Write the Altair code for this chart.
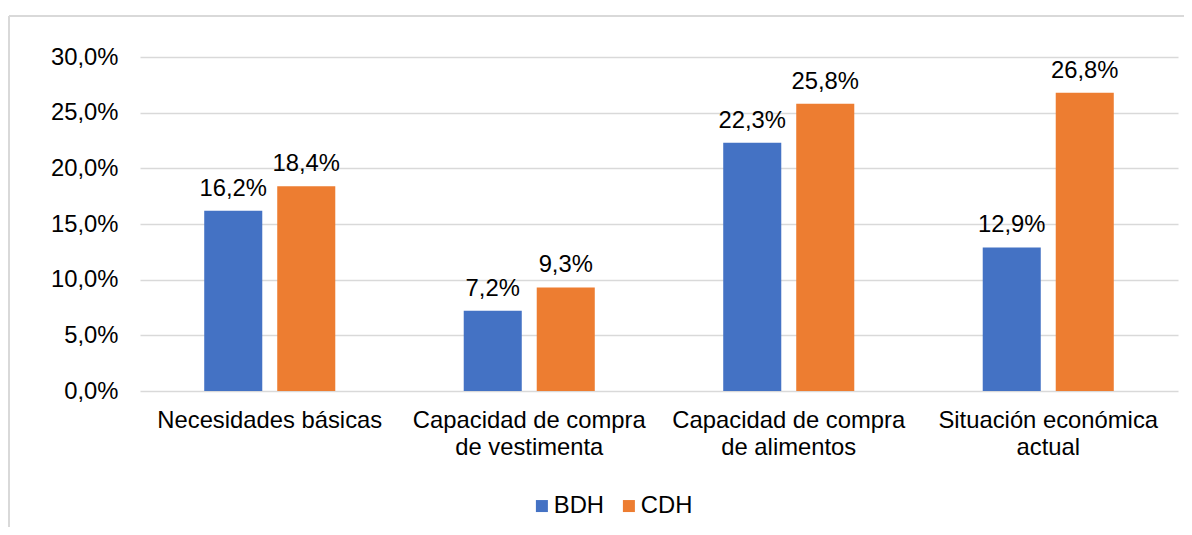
import json
import altair as alt
import pandas as pd

categories = ["Necesidades básicas", "Capacidad de compra de vestimenta",
              "Capacidad de compra de alimentos", "Situación económica actual"]
category_lines = [["Necesidades básicas"], ["Capacidad de compra", "de vestimenta"],
                  ["Capacidad de compra", "de alimentos"], ["Situación económica", "actual"]]
series = ["BDH", "CDH"]
bdh = [16.2, 7.2, 22.3, 12.9]
cdh = [18.4, 9.3, 25.8, 26.8]
y_ticks = [0, 5, 10, 15, 20, 25, 30]
colors = ["#4472C4", "#ED7D31"]

rows = []
for i, c in enumerate(categories):
    rows.append({"cat": c, "serie": "BDH", "value": bdh[i]})
    rows.append({"cat": c, "serie": "CDH", "value": cdh[i]})
df = pd.DataFrame(rows)

label_expr = "datum.label"
for c, lines in reversed(list(zip(categories, category_lines))):
    label_expr = f"datum.label == {json.dumps(c)} ? {json.dumps(lines)} : ({label_expr})"

FONT = "Liberation Sans"
FS = 23.8

base = alt.Chart(df).transform_calculate(
    txt="replace(format(datum.value, '.1f'), '.', ',') + '%'"
)

x_enc = alt.X("cat:N", sort=categories, title=None,
              scale=alt.Scale(paddingInner=0.495, paddingOuter=0.2475),
              axis=alt.Axis(labelExpr=label_expr, labelAngle=0, ticks=False, domain=False,
                            labelPadding=17, labelFontSize=FS, labelLineHeight=27,
                            labelColor="#000000", labelFont=FONT, grid=False, labelLimit=400))
xo_enc = alt.XOffset("serie:N", sort=series, scale=alt.Scale(paddingInner=0.205, paddingOuter=0))
y_enc = alt.Y("value:Q", title=None,
              scale=alt.Scale(domain=[0, 30], nice=False),
              axis=alt.Axis(values=y_ticks, ticks=False, domain=False, labelPadding=22,
                            labelFontSize=FS, labelColor="#000000", labelFont=FONT,
                            labelExpr="replace(format(datum.value, '.1f'), '.', ',') + '%'",
                            grid=True, gridColor="#d9d9d9", gridWidth=1.5))

bars = base.mark_bar().encode(
    x=x_enc, xOffset=xo_enc, y=y_enc,
    color=alt.Color("serie:N", sort=series,
                    scale=alt.Scale(domain=series, range=colors),
                    legend=alt.Legend(title=None, orient="none", legendX=390, legendY=437,
                                      direction="horizontal", symbolType="square",
                                      symbolSize=144, symbolStrokeWidth=0,
                                      labelFontSize=FS, labelFont=FONT, labelColor="#000000",
                                      labelOffset=0, columnPadding=12))
)

texts = base.mark_text(baseline="alphabetic", dy=-15, fontSize=FS, font=FONT,
                       color="#000000").encode(
    x=x_enc, xOffset=xo_enc, y=y_enc, text="txt:N"
)

frame_df = pd.DataFrame({"k": [0]})
frame_top = alt.Chart(frame_df).mark_rule(color="#d9d9d9", strokeWidth=2).encode(
    x=alt.value(-131), x2=alt.value(1052), y=alt.value(-41)
)
frame_left = alt.Chart(frame_df).mark_rule(color="#d9d9d9", strokeWidth=2).encode(
    x=alt.value(-131), y=alt.value(-41), y2=alt.value(500)
)

chart = alt.layer(frame_top, frame_left, bars, texts).properties(
    width=1038, height=334,
    autosize=alt.AutoSizeParams(type="none"),
    padding={"left": 132, "top": 49, "right": 6, "bottom": 136},
    background="#ffffff",
).configure(font=FONT).configure_view(
    stroke="transparent", strokeWidth=0, strokeOpacity=0
).configure_axis(domain=False, ticks=False)

chart.save("out.html", embed_options={"renderer": "svg", "actions": False})
